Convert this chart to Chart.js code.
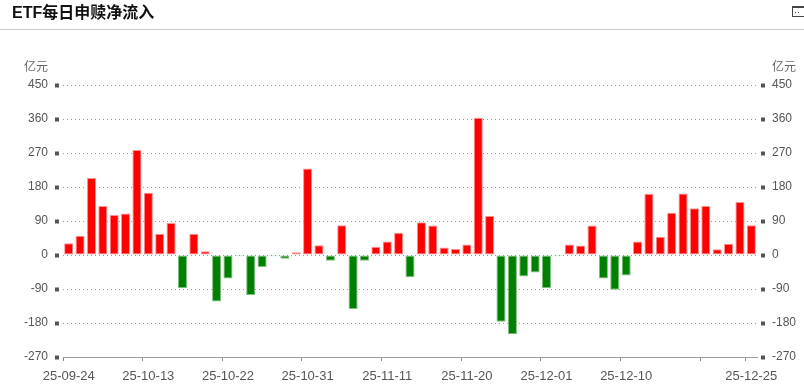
<!DOCTYPE html>
<html><head><meta charset="utf-8">
<script src="https://cdn.jsdelivr.net/npm/chart.js@4/dist/chart.umd.min.js"></script>
<style>
html,body{margin:0;padding:0;background:#fff;width:804px;height:390px;overflow:hidden;}
#wrap{position:absolute;left:0;top:0;width:804px;height:390px;}
#title{position:absolute;left:12px;top:4px;font:bold 16px "Liberation Sans","Noto Sans CJK SC",sans-serif;color:#111;line-height:18px;}
#sep{position:absolute;left:0;top:29px;width:804px;height:1px;background:#ccc;}
#icon{position:absolute;left:792px;top:6px;width:13px;height:11px;border:1px solid #444;border-top-width:2px;box-sizing:border-box;}
#icon:after{content:"";position:absolute;left:2px;top:4px;width:1px;height:1px;background:#444;box-shadow:3px 0 0 #444;}
canvas{position:absolute;left:0;top:0;}
</style></head>
<body><div id="wrap">
<canvas id="c" width="804" height="390"></canvas>
<div id="title">ETF每日申赎净流入</div>
<div id="sep"></div>
<div id="icon"></div>
</div>
<script>
const dates = ["25-09-24","25-09-25","25-09-26","25-09-29","25-09-30","25-10-09","25-10-10","25-10-13","25-10-14","25-10-15","25-10-16","25-10-17","25-10-20","25-10-21","25-10-22","25-10-23","25-10-24","25-10-27","25-10-28","25-10-29","25-10-30","25-10-31","25-11-03","25-11-04","25-11-05","25-11-06","25-11-07","25-11-10","25-11-11","25-11-12","25-11-13","25-11-14","25-11-17","25-11-18","25-11-19","25-11-20","25-11-21","25-11-24","25-11-25","25-11-26","25-11-27","25-11-28","25-12-01","25-12-02","25-12-03","25-12-04","25-12-05","25-12-08","25-12-09","25-12-10","25-12-11","25-12-12","25-12-15","25-12-16","25-12-17","25-12-18","25-12-19","25-12-22","25-12-23","25-12-24","25-12-25"];
const netInflow = [31,51,204,130,106,110,278,165,56,85,-88,56,10,-123,-62,-3,-106,-32,-3,-10,7,229,26,-15,79,-143,-15,22,36,59,-59,87,78,20,16,28,363,103,-177,-210,-57,-46,-88,-3,28,25,78,-62,-92,-54,36,162,48,112,163,124,130,15,30,140,79];
const yTicks = [-270,-180,-90,0,90,180,270,360,450];
const shownLabels = ["25-09-24","25-10-13","25-10-22","25-10-31","25-11-11","25-11-20","25-12-01","25-12-10","25-12-25"];
const tickMarks = ["25-09-24","25-10-13","25-10-22","25-10-31","25-11-11","25-11-20","25-12-01","25-12-10","25-12-19","25-12-25"];
const unitText = "亿元";

const FONT = "Liberation Sans, Arial, Noto Sans CJK SC, sans-serif";
const upColor = "#ff0000", downColor = "#008000";

const unitPlugin = {
  id: 'unit',
  afterDraw(chart){
    const ctx = chart.ctx;
    const yl = chart.scales.yL, yr = chart.scales.yR;
    ctx.save();
    ctx.font = "12px " + FONT;
    ctx.fillStyle = "#666";
    ctx.textBaseline = "middle";
    ctx.textAlign = "right";
    ctx.fillText(unitText, yl.right - 15, yl.getPixelForValue(450) - 17);
    ctx.textAlign = "left";
    ctx.fillText(unitText, yr.left + 15, yr.getPixelForValue(450) - 17);
    ctx.restore();
  }
};

const markIdx = tickMarks.map(d => dates.indexOf(d));

function yAxis(pos){
  return {
    position: pos,
    min: -270, max: 450,
    afterBuildTicks(s){ s.ticks = yTicks.map(v => ({value: v})); },
    afterFit(s){ s.width = pos === 'left' ? 63 : 47; },
    grid: {
      display: true,
      drawOnChartArea: pos === 'left',
      color: (c) => (c.tick && c.tick.value === -270) ? 'rgba(0,0,0,0)' : '#999',
      lineWidth: 1,
      drawTicks: true,
      tickLength: 8,
      tickWidth: 4,
      tickColor: '#555',
      tickBorderDash: [4,4],
      tickBorderDashOffset: pos === 'left' ? 0 : 4
    },
    border: { display: false, dash: [1,3] },
    ticks: {
      padding: 7,
      color: '#555',
      font: { size: 12, family: FONT }
    }
  };
}

new Chart(document.getElementById('c'), {
  type: 'bar',
  data: {
    labels: dates,
    datasets: [{
      data: netInflow,
      yAxisID: 'yL',
      backgroundColor: netInflow.map(v => v >= 0 ? upColor : downColor),
      borderColor: netInflow.map(v => v >= 0 ? '#ff9090' : '#80c080'),
      borderWidth: 1,
      borderSkipped: false,
      barPercentage: 0.8,
      categoryPercentage: 1.0
    }]
  },
  options: {
    responsive: false,
    animation: false,
    events: [],
    layout: { padding: { top: 85, left: 0, right: 0, bottom: 0 } },
    plugins: { legend: { display: false }, tooltip: { enabled: false } },
    scales: {
      x: {
        offset: true,
        afterFit(s){ s.height = 33; },
        grid: {
          offset: true,
          drawOnChartArea: false,
          drawTicks: true,
          tickLength: 4,
          tickWidth: 1,
          tickColor: (c) => (markIdx.includes(c.index) || c.index >= dates.length) ? '#888' : 'rgba(0,0,0,0)'
        },
        border: { display: true, color: '#999', width: 1 },
        ticks: {
          autoSkip: false,
          maxRotation: 0,
          padding: 8,
          color: '#555',
          font: { size: 13, family: FONT },
          callback(v, i){ const d = dates[i]; return shownLabels.includes(d) ? d : ''; }
        }
      },
      yL: yAxis('left'),
      yR: yAxis('right')
    }
  },
  plugins: [unitPlugin]
});
</script>
</body></html>
